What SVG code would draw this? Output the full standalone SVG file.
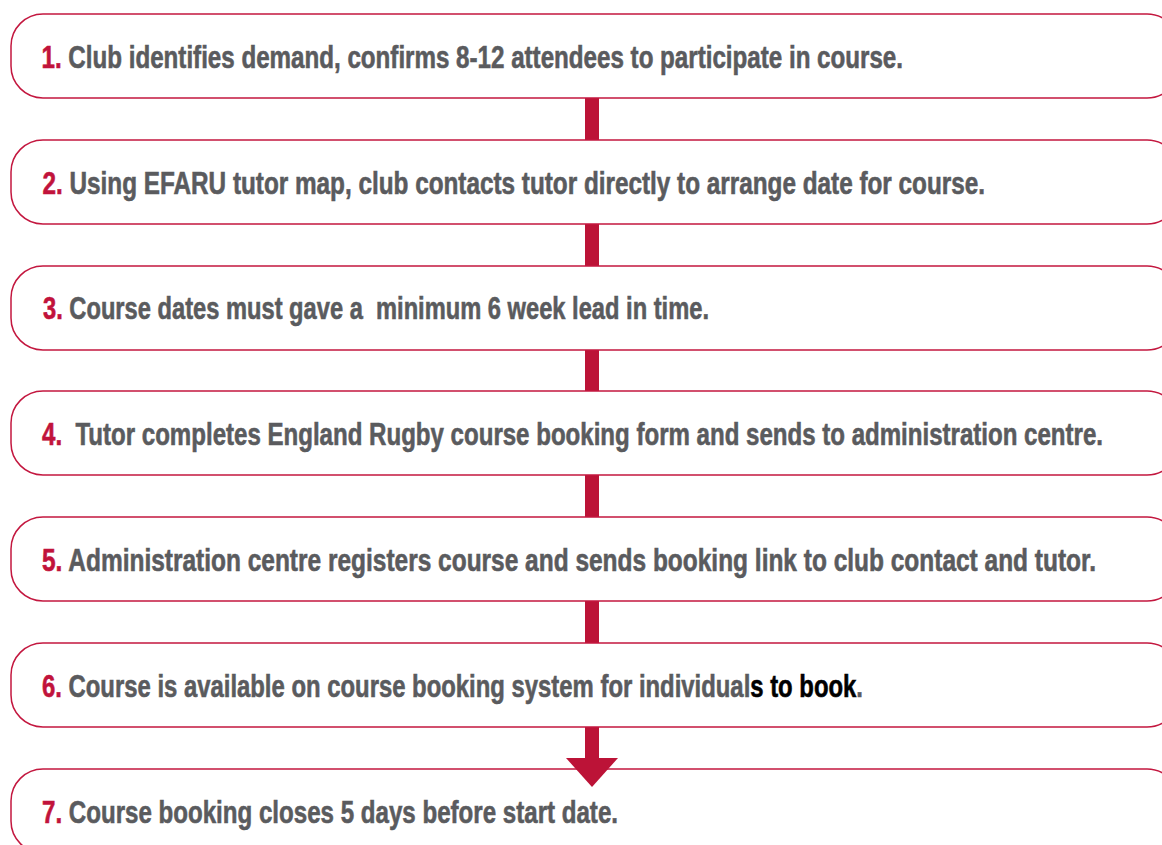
<svg xmlns="http://www.w3.org/2000/svg" width="1162" height="845" viewBox="0 0 1162 845">
<style>
.box{fill:#ffffff;stroke:#c3173f;stroke-width:1.5}
.t{font-family:"Liberation Sans",Arial,sans-serif;font-weight:bold;font-size:31px;fill:#5a5b5e;stroke:#5a5b5e;stroke-width:0.6;white-space:pre}
.n{fill:#c1133b;stroke:#c1133b}
.k{fill:#000000;stroke:#000000}
.stem{fill:#bc1337}
</style>
<rect width="1162" height="845" fill="#ffffff"/>
<g id="connectors">
<rect class="stem" x="585" y="98" width="14" height="42"/>
<rect class="stem" x="585" y="224" width="14" height="42"/>
<rect class="stem" x="585" y="350" width="14" height="41"/>
<rect class="stem" x="585" y="475" width="14" height="42"/>
<rect class="stem" x="585" y="601" width="14" height="42"/>
<rect class="stem" x="585" y="727" width="14" height="32"/>
</g>
<g id="node1"><rect class="box" x="11" y="14" width="1168" height="84" rx="32" ry="32"/>
<text class="t" x="41.5" y="68" textLength="861.5" lengthAdjust="spacingAndGlyphs"><tspan class="n">1.</tspan> Club identifies demand, confirms 8-12 attendees to participate in course.</text></g>
<g id="node2"><rect class="box" x="11" y="140" width="1168" height="84" rx="32" ry="32"/>
<text class="t" x="42.5" y="193.5" textLength="942.5" lengthAdjust="spacingAndGlyphs"><tspan class="n">2.</tspan> Using EFARU tutor map, club contacts tutor directly to arrange date for course.</text></g>
<g id="node3"><rect class="box" x="11" y="266" width="1168" height="84" rx="32" ry="32"/>
<text class="t" x="43" y="319" textLength="666" lengthAdjust="spacingAndGlyphs"><tspan class="n">3.</tspan> Course dates must gave a  minimum 6 week lead in time.</text></g>
<g id="node4"><rect class="box" x="11" y="391" width="1168" height="84" rx="32" ry="32"/>
<text class="t" x="42" y="445" textLength="1061" lengthAdjust="spacingAndGlyphs"><tspan class="n">4.</tspan>  Tutor completes England Rugby course booking form and sends to administration centre.</text></g>
<g id="node5"><rect class="box" x="11" y="517" width="1168" height="84" rx="32" ry="32"/>
<text class="t" x="42" y="571" textLength="1054" lengthAdjust="spacingAndGlyphs"><tspan class="n">5.</tspan> Administration centre registers course and sends booking link to club contact and tutor.</text></g>
<g id="node6"><rect class="box" x="11" y="643" width="1168" height="84" rx="32" ry="32"/>
<text class="t" x="42" y="697" textLength="821" lengthAdjust="spacingAndGlyphs"><tspan class="n">6.</tspan> Course is available on course booking system for individual<tspan class="k">s to book</tspan>.</text></g>
<g id="node7"><rect class="box" x="11" y="769" width="1168" height="84" rx="32" ry="32"/>
<text class="t" x="42" y="823" textLength="576" lengthAdjust="spacingAndGlyphs"><tspan class="n">7.</tspan> Course booking closes 5 days before start date.</text></g>
<g id="arrowhead"><polygon class="stem" points="566,758 618,758 592,787"/></g>
</svg>
